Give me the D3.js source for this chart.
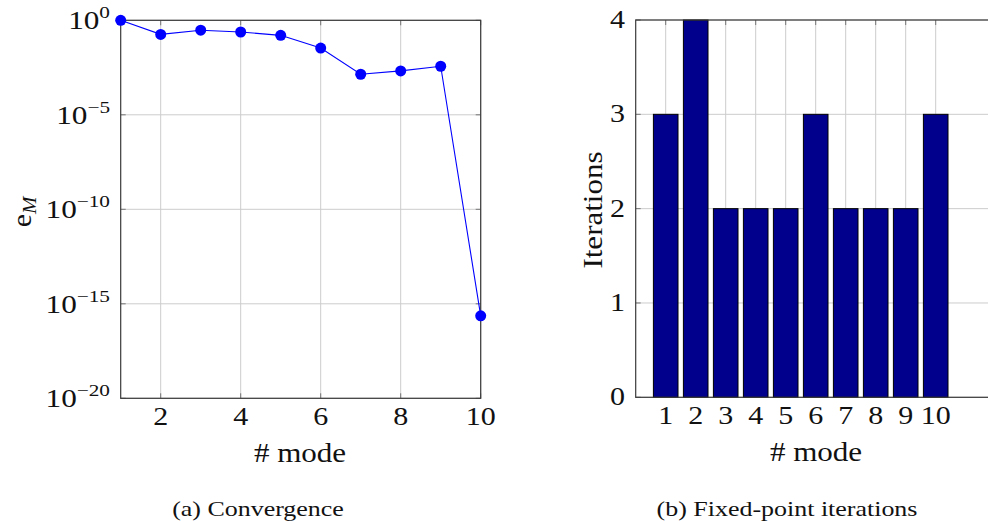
<!DOCTYPE html>
<html>
<head>
<meta charset="utf-8">
<script src="https://cdn.jsdelivr.net/npm/d3@7"></script>
<style>
  body { margin: 0; background: #fff; }
  text { font-family: "Liberation Serif", "DejaVu Serif", serif; fill: #111; }
</style>
</head>
<body>
<svg id="canvas" width="988" height="521"></svg>
<script>
// data
var modes = [1, 2, 3, 4, 5, 6, 7, 8, 9, 10];
var errors = [1, 0.18, 0.3, 0.24, 0.16, 0.034, 1.4e-3, 2.1e-3, 3.7e-3, 2.3e-16];
var iterations = [3, 4, 2, 2, 2, 3, 2, 2, 2, 3];
var leftXTicks = [2, 4, 6, 8, 10];
var leftYExps = [0, -5, -10, -15, -20];
var rightYTicks = [0, 1, 2, 3, 4];

var canvas = d3.select('#canvas');

var gridColor = '#cccccc';
var axisColor = '#3a3a3a';
var tickLen = 5;

// text helper: the reference font is wider than Times, so stretch horizontally
function label(parent, x, y, size, anchor, kx, rot) {
  var g = parent.append('g')
    .attr('transform', 'translate(' + x + ',' + y + ')' + (rot ? ' rotate(' + rot + ')' : '') + ' scale(' + kx + ',1)');
  return g.append('text')
    .attr('text-anchor', anchor)
    .style('font-size', size + 'px');
}

// ---------- left: convergence (log scale) ----------
var left = { 'left': 120.7, 'right': 480.7, 'top': 20.3, 'bottom': 398.3 };

var xL = d3.scaleLinear().domain([1, 10]).range([left.left, left.right]);
var yL = d3.scaleLog().domain([1e-20, 1]).range([left.bottom, left.top]);

var gL = canvas.append('g');

// grid
gL.selectAll('.vgrid').data(leftXTicks).enter().append('line')
  .attr('x1', function(d) { return xL(d); }).attr('x2', function(d) { return xL(d); })
  .attr('y1', left.top).attr('y2', left.bottom)
  .style('stroke', gridColor).style('stroke-width', 1);
gL.selectAll('.hgrid').data(leftYExps).enter().append('line')
  .attr('x1', left.left).attr('x2', left.right)
  .attr('y1', function(d) { return yL(Math.pow(10, d)); })
  .attr('y2', function(d) { return yL(Math.pow(10, d)); })
  .style('stroke', gridColor).style('stroke-width', 1);

// inward tick marks
leftXTicks.forEach(function(t) {
  [[left.bottom, left.bottom - tickLen], [left.top, left.top + tickLen]].forEach(function(p) {
    gL.append('line').attr('x1', xL(t)).attr('x2', xL(t)).attr('y1', p[0]).attr('y2', p[1])
      .style('stroke', '#777').style('stroke-width', 1);
  });
});
leftYExps.forEach(function(e) {
  var y = yL(Math.pow(10, e));
  [[left.left, left.left + tickLen], [left.right, left.right - tickLen]].forEach(function(p) {
    gL.append('line').attr('x1', p[0]).attr('x2', p[1]).attr('y1', y).attr('y2', y)
      .style('stroke', '#777').style('stroke-width', 1);
  });
});

// frame
gL.append('rect')
  .attr('x', left.left).attr('y', left.top)
  .attr('width', left.right - left.left).attr('height', left.bottom - left.top)
  .style('fill', 'none').style('stroke', axisColor).style('stroke-width', 1.2);

// line + markers
var line = d3.line()
  .x(function(d, i) { return xL(modes[i]); })
  .y(function(d) { return yL(d); });

gL.append('path').datum(errors)
  .attr('d', line)
  .style('fill', 'none').style('stroke', '#0000ff').style('stroke-width', 1.1);

gL.selectAll('.dot').data(errors).enter().append('circle')
  .attr('cx', function(d, i) { return xL(modes[i]); })
  .attr('cy', function(d) { return yL(d); })
  .attr('r', 5.5)
  .style('fill', '#0000ff');

// tick labels
leftXTicks.forEach(function(t) {
  label(gL, xL(t), 425, 25, 'middle', 1.2).text(t);
});

leftYExps.forEach(function(e) {
  var t = label(gL, 110, yL(Math.pow(10, e)) + 9, 25, 'end', 1.25);
  t.append('tspan').text('10');
  t.append('tspan')
    .attr('dy', -11)
    .style('font-size', '17px')
    .text(e === 0 ? '0' : '\u2212' + (-e));
});

// axis labels
label(gL, 300, 462, 27, 'middle', 1.15).text('# mode');

var eLab = label(gL, 31, 212, 27, 'middle', 1.1, -90);
eLab.append('tspan').text('e');
eLab.append('tspan').attr('dy', 5).style('font-size', '19px').style('font-style', 'italic').text('M');

// caption
label(canvas, 258, 516, 22, 'middle', 1.18).text('(a) Convergence');

// ---------- right: fixed-point iterations (bars) ----------
var right = { 'left': 635.7, 'right': 995.7, 'top': 20, 'bottom': 397.3 };

var xR = d3.scaleLinear().domain([0, 12]).range([right.left, right.right]);
var yR = d3.scaleLinear().domain([0, 4]).range([right.bottom, right.top]);

var gR = canvas.append('g');

gR.selectAll('.vgrid').data(modes).enter().append('line')
  .attr('x1', function(d) { return xR(d); }).attr('x2', function(d) { return xR(d); })
  .attr('y1', right.top).attr('y2', right.bottom)
  .style('stroke', gridColor).style('stroke-width', 1);
gR.selectAll('.hgrid').data(rightYTicks).enter().append('line')
  .attr('x1', right.left).attr('x2', right.right)
  .attr('y1', function(d) { return yR(d); }).attr('y2', function(d) { return yR(d); })
  .style('stroke', gridColor).style('stroke-width', 1);

modes.forEach(function(t) {
  gR.append('line').attr('x1', xR(t)).attr('x2', xR(t))
    .attr('y1', right.top).attr('y2', right.top + tickLen)
    .style('stroke', '#777').style('stroke-width', 1);
});
rightYTicks.forEach(function(t) {
  gR.append('line').attr('x1', right.left).attr('x2', right.left + tickLen)
    .attr('y1', yR(t)).attr('y2', yR(t))
    .style('stroke', '#777').style('stroke-width', 1);
});

// bars
gR.selectAll('.bar').data(iterations).enter().append('rect')
  .attr('x', function(d, i) { return xR(modes[i] - 0.41); })
  .attr('width', function(d, i) { return xR(modes[i] + 0.41) - xR(modes[i] - 0.41); })
  .attr('y', function(d) { return yR(d); })
  .attr('height', function(d) { return yR(0) - yR(d); })
  .style('fill', '#00008c')
  .style('stroke', '#000')
  .style('stroke-width', 1);

// frame
gR.append('rect')
  .attr('x', right.left).attr('y', right.top)
  .attr('width', right.right - right.left).attr('height', right.bottom - right.top)
  .style('fill', 'none').style('stroke', axisColor).style('stroke-width', 1.2);

modes.forEach(function(t) {
  label(gR, xR(t), 424, 25, 'middle', 1.2).text(t);
});

rightYTicks.forEach(function(t) {
  label(gR, 625, yR(t) + 8, 25, 'end', 1.2).text(t);
});

label(gR, 816, 461, 27, 'middle', 1.15).text('# mode');

label(gR, 602, 210, 27, 'middle', 1.15, -90).text('Iterations');

label(canvas, 787, 516, 22, 'middle', 1.18).text('(b) Fixed-point iterations');
</script>
</body>
</html>
